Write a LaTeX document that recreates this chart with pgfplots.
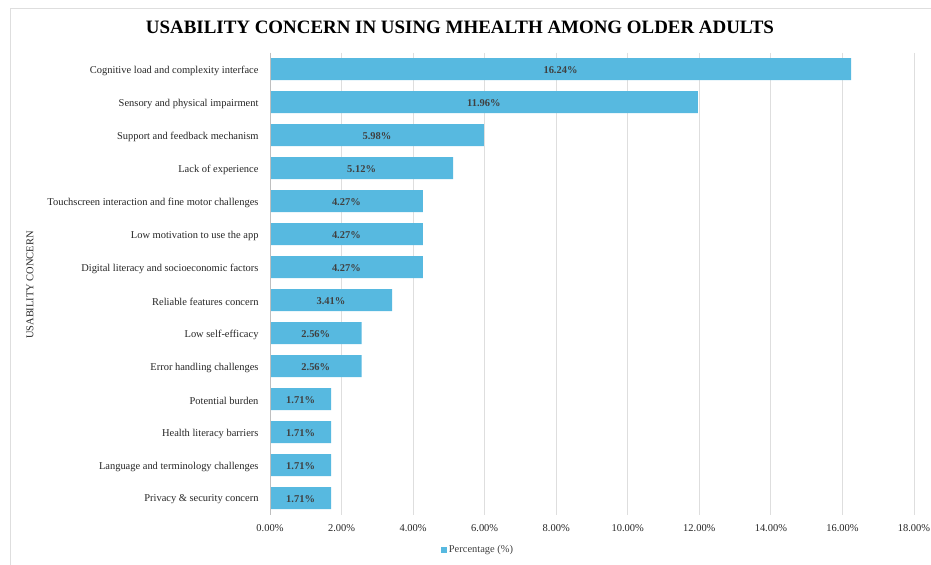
\documentclass[border=0pt]{standalone}
\usepackage{pgfplots}
\pgfplotsset{compat=1.18}
\usepackage{pgfplotstable}
\usepackage{fontspec}
\setmainfont{Liberation Serif}
\definecolor{barblue}{RGB}{87,185,224}
\definecolor{gridgray}{RGB}{222,222,222}
\definecolor{axgray}{RGB}{191,191,191}
\definecolor{txtgray}{RGB}{64,64,64}
\pgfplotstableread{
y v
0 16.24
1 11.96
2 5.98
3 5.12
4 4.27
5 4.27
6 4.27
7 3.41
8 2.56
9 2.56
10 1.71
11 1.71
12 1.71
13 1.71
}\datatable
\begin{document}
\begin{tikzpicture}
\useasboundingbox (0,0) rectangle (931bp,-565bp);
\draw[gridgray, line width=0.8bp] (10bp,-8bp) rectangle (940bp,-575bp);
\node[font=\fontsize{19}{22}\selectfont\bfseries, anchor=center] at (460bp,-27bp) {USABILITY CONCERN IN USING MHEALTH AMONG OLDER ADULTS};
\node[font=\fontsize{10.5}{12}\selectfont, text=black!85, rotate=90, anchor=center] at (30bp,-285bp) {USABILITY CONCERN};
\begin{axis}[
  at={(270bp,-514.5bp)}, anchor=south west,
  scale only axis, width=644bp, height=462bp,
  xbar, bar width=22bp, bar shift=0pt,
  xmin=0, xmax=18,
  ymin=-0.5, ymax=13.5, y dir=reverse,
  xtick={0,2,...,18},
  xticklabels={0.00\%,2.00\%,4.00\%,6.00\%,8.00\%,10.00\%,12.00\%,14.00\%,16.00\%,18.00\%},
  ytick={0,...,13},
  yticklabels={Cognitive load and complexity interface,Sensory and physical impairment,Support and feedback mechanism,Lack of experience,Touchscreen interaction and fine motor challenges,Low motivation to use the app,Digital literacy and socioeconomic factors,Reliable features concern,Low self-efficacy,Error handling challenges,Potential burden,Health literacy barriers,Language and terminology challenges,Privacy \& security concern},
  tick style={draw=none},
  major tick length=0pt,
  xmajorgrids, grid style={gridgray, line width=0.8bp},
  axis line style={draw=none},
  axis x line*=bottom, axis y line*=left,
  ticklabel style={font=\fontsize{10.5}{12}\selectfont, text=black!85},
  xticklabel style={yshift=-7bp},
  yticklabel style={xshift=-8bp, yshift=-1.5bp},
  legend style={at={(0.323,-0.077)}, anchor=center, draw=none, fill=none,
    font=\fontsize{10.5}{12}\selectfont, text=black!75, inner sep=0pt,
    legend cell align=left},
  legend image code/.code={\fill[barblue] (0bp,-3bp) rectangle (6bp,3bp);},
  clip=false,
]
\addplot[fill=barblue, draw=none] table[x=v, y=y] {\datatable};
\addlegendentry{Percentage (\%)}
\addplot[draw=none, mark=none, forget plot,
  nodes near coords={\pgfmathprintnumber[fixed,fixed zerofill,precision=2,assume math mode=true]{\pgfplotspointmeta}\%},
  nodes near coords style={anchor=center, font=\fontsize{10.5}{12}\selectfont\bfseries, text=txtgray, yshift=-1.5bp},
  point meta=explicit] table[x expr=\thisrow{v}/2, y=y, meta=v] {\datatable};
\draw[axgray, line width=1bp] (axis cs:0,-0.5) -- (axis cs:0,13.5);
\end{axis}
\end{tikzpicture}
\end{document}
